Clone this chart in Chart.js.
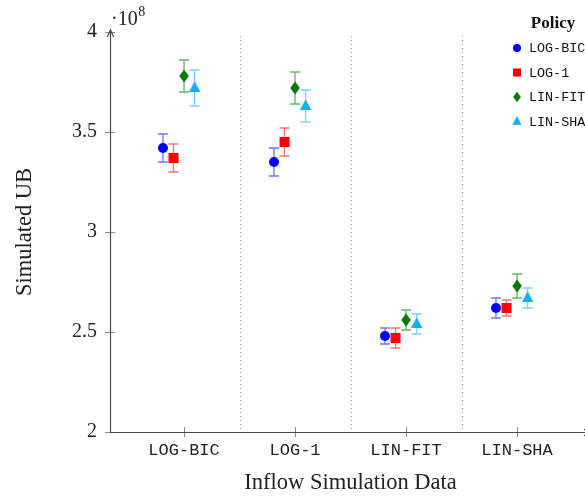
<!DOCTYPE html>
<html>
<head>
<meta charset="utf-8">
<script src="https://cdn.jsdelivr.net/npm/chart.js@4.4.1/dist/chart.umd.min.js"></script>
<style>
  html, body { margin: 0; padding: 0; background: #ffffff; }
  #wrap { width: 585px; height: 497px; position: relative; }
</style>
</head>
<body>
<div id="wrap"><canvas id="c" width="585" height="497"></canvas></div>
<script>
// Inflow data sets on the x axis and the policies compared on each
const categories = ['LOG-BIC', 'LOG-1', 'LIN-FIT', 'LIN-SHA'];
const policies = ['LOG-BIC', 'LOG-1', 'LIN-FIT', 'LIN-SHA'];
const yTickValues = [2, 2.5, 3, 3.5, 4];

// Mean simulated upper bound (x 10^8), one array per policy
const ubLogBic = [3.42, 3.35, 2.48, 2.62];
const ubLog1   = [3.37, 3.45, 2.47, 2.62];
const ubLinFit = [3.78, 3.72, 2.56, 2.73];
const ubLinSha = [3.72, 3.63, 2.54, 2.67];

// Half-width of the confidence interval (x 10^8)
const errLogBic = [0.07, 0.07, 0.04, 0.05];
const errLog1   = [0.07, 0.07, 0.05, 0.04];
const errLinFit = [0.08, 0.08, 0.05, 0.06];
const errLinSha = [0.09, 0.08, 0.05, 0.05];

const means = [ubLogBic, ubLog1, ubLinFit, ubLinSha];
const errors = [errLogBic, errLog1, errLinFit, errLinSha];

// Per-policy look: marker shape, colours, horizontal shift inside a group
const looks = [
  { shape: 'circle',   color: '#0000f0', bar: 'rgba(20,20,245,0.6)',   shift: -0.19 },
  { shape: 'square',   color: '#ff0000', bar: 'rgba(255,20,20,0.6)',   shift: -0.095 },
  { shape: 'diamond',  color: '#007a00', bar: 'rgba(10,130,10,0.62)',  shift: 0 },
  { shape: 'triangle', color: '#12b0f0', bar: 'rgba(30,185,245,0.62)', shift: 0.095 }
];

const SERIF = '"Liberation Serif", "DejaVu Serif", serif';
const MONO = '"Liberation Mono", "DejaVu Sans Mono", monospace';

function drawShape(g, shape, x, y, s, color) {
  g.fillStyle = color;
  g.beginPath();
  if (shape === 'circle') {
    g.arc(x, y, 5 * s, 0, Math.PI * 2);
  } else if (shape === 'square') {
    g.rect(x - 5 * s, y - 5 * s, 10 * s, 10 * s);
  } else if (shape === 'diamond') {
    g.moveTo(x, y - 6.5 * s);
    g.lineTo(x + 4.8 * s, y);
    g.lineTo(x, y + 6.5 * s);
    g.lineTo(x - 4.8 * s, y);
    g.closePath();
  } else {
    g.moveTo(x, y - 6.7 * s);
    g.lineTo(x + 5.8 * s, y + 4.1 * s);
    g.lineTo(x - 5.8 * s, y + 4.1 * s);
    g.closePath();
  }
  g.fill();
}

function markerImage(look) {
  const cv = document.createElement('canvas');
  cv.width = 16; cv.height = 16;
  drawShape(cv.getContext('2d'), look.shape, 8, 8, 1, look.color);
  return cv;
}

// Axis lines, arrow, tick marks, dotted group separators and titles
const axesPlugin = {
  id: 'axesDecor',
  beforeDatasetsDraw(chart) {
    const g = chart.ctx;
    const a = chart.chartArea;
    const xs = chart.scales.x, ys = chart.scales.y;
    g.save();
    // dotted separators between the groups
    g.strokeStyle = '#9a9a9a';
    g.lineWidth = 1;
    g.setLineDash([1, 3]);
    for (let i = 0; i < categories.length - 1; i++) {
      const px = Math.round(xs.getPixelForValue(i + 0.5)) + 0.5;
      g.beginPath();
      g.moveTo(px, a.top + 4);
      g.lineTo(px, a.bottom);
      g.stroke();
    }
    g.setLineDash([]);
    // tick marks crossing the axes
    g.strokeStyle = '#8c8c8c';
    yTickValues.forEach(v => {
      const py = Math.round(ys.getPixelForValue(v)) + 0.5;
      g.beginPath(); g.moveTo(a.left - 5, py); g.lineTo(a.left + 5, py); g.stroke();
    });
    categories.forEach((c, i) => {
      const px = Math.round(xs.getPixelForValue(i)) + 0.5;
      g.beginPath(); g.moveTo(px, a.bottom - 5); g.lineTo(px, a.bottom + 5); g.stroke();
    });
    // axis lines with arrow heads
    g.strokeStyle = '#4a4a4a';
    g.lineWidth = 1.2;
    const x0 = a.left + 0.5, y0 = a.bottom + 0.5;
    g.beginPath();
    g.moveTo(x0, y0); g.lineTo(x0, a.top - 2);
    g.moveTo(x0 - 3.2, a.top + 5); g.lineTo(x0, a.top - 2); g.lineTo(x0 + 3.2, a.top + 5);
    g.moveTo(x0, y0); g.lineTo(a.right + 6, y0);
    g.moveTo(a.right - 1, y0 - 3.2); g.lineTo(a.right + 6, y0); g.lineTo(a.right - 1, y0 + 3.2);
    g.stroke();
    // scale factor label
    g.fillStyle = '#222';
    g.textBaseline = 'alphabetic';
    g.textAlign = 'left';
    g.font = '20px ' + SERIF;
    g.fillText('\u00b710', a.left + 1, 25);
    const w = g.measureText('\u00b710').width;
    g.font = '14px ' + SERIF;
    g.fillText('8', a.left + 1 + w + 0.5, 16);
    // axis titles
    g.font = '22.5px ' + SERIF;
    g.textAlign = 'center';
    g.textBaseline = 'middle';
    g.fillText('Inflow Simulation Data', (a.left + xs.getPixelForValue(3.667)) / 2, 483);
    g.save();
    g.translate(25, (a.top + a.bottom) / 2);
    g.rotate(-Math.PI / 2);
    g.fillText('Simulated UB', 0, 0);
    g.restore();
    g.restore();
  }
};

// Vertical error bars with caps, drawn under the markers
const errorBarPlugin = {
  id: 'errorBars',
  beforeDatasetsDraw(chart) {
    const g = chart.ctx;
    const xs = chart.scales.x, ys = chart.scales.y;
    g.save();
    g.lineWidth = 1.3;
    chart.data.datasets.forEach(ds => {
      g.strokeStyle = ds.barColor;
      ds.data.forEach((pt, i) => {
        const e = ds.errors[i];
        const px = xs.getPixelForValue(pt.x);
        const top = ys.getPixelForValue(pt.y + e);
        const bot = ys.getPixelForValue(pt.y - e);
        g.beginPath();
        g.moveTo(px, top); g.lineTo(px, bot);
        g.moveTo(px - 5, top); g.lineTo(px + 5, top);
        g.moveTo(px - 5, bot); g.lineTo(px + 5, bot);
        g.stroke();
      });
    });
    g.restore();
  }
};

// Legend box in the upper right corner
const legendPlugin = {
  id: 'policyLegend',
  afterDraw(chart) {
    const g = chart.ctx;
    g.save();
    g.fillStyle = '#111';
    g.font = 'bold 17px ' + SERIF;
    g.textAlign = 'center';
    g.textBaseline = 'middle';
    g.fillText('Policy', 553, 24);
    g.textAlign = 'left';
    g.font = '13.4px ' + MONO;
    chart.data.datasets.forEach((ds, k) => {
      const y = 48 + k * 24.5;
      drawShape(g, looks[k].shape, 517, y, 0.8, looks[k].color);
      g.fillStyle = '#111';
      g.fillText(ds.label, 529, y + 0.5);
    });
    g.restore();
  }
};

const datasets = policies.map((name, k) => ({
  label: name,
  data: means[k].map((v, i) => ({ x: i + looks[k].shift, y: v })),
  errors: errors[k],
  barColor: looks[k].bar,
  pointStyle: markerImage(looks[k]),
  pointRadius: 6,
  backgroundColor: looks[k].color,
  borderColor: looks[k].color,
  showLine: false
}));

new Chart(document.getElementById('c'), {
  type: 'scatter',
  data: { datasets },
  options: {
    responsive: false,
    animation: false,
    devicePixelRatio: 1,
    layout: { autoPadding: false, padding: { top: 32, left: 0, right: 0, bottom: 0 } },
    plugins: { legend: { display: false }, tooltip: { enabled: false } },
    scales: {
      x: {
        type: 'linear',
        min: -0.667,
        max: 3.612,
        grid: { display: false, drawTicks: false },
        border: { display: false },
        afterBuildTicks: s => { s.ticks = categories.map((c, i) => ({ value: i })); },
        afterFit: s => { s.height = 65; s.paddingLeft = 0; s.paddingRight = 0; },
        ticks: {
          callback: v => categories[v],
          font: { family: MONO, size: 17 },
          color: '#222',
          padding: 8,
          maxRotation: 0,
          autoSkip: false
        }
      },
      y: {
        min: 2,
        max: 4,
        grid: { display: false, drawTicks: false },
        border: { display: false },
        afterBuildTicks: s => { s.ticks = yTickValues.map(v => ({ value: v })); },
        afterFit: s => { s.width = 110; s.paddingTop = 0; s.paddingBottom = 0; },
        ticks: {
          callback: v => String(v),
          font: { family: SERIF, size: 20 },
          color: '#222',
          padding: 13
        }
      }
    }
  },
  plugins: [axesPlugin, errorBarPlugin, legendPlugin]
});
</script>
</body>
</html>
